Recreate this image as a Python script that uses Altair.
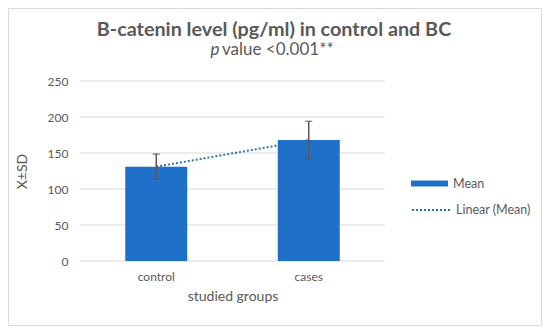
import altair as alt
import pandas as pd

groups = ["control", "cases"]
means = [131, 168]
sds = [17.5, 26]
y_ticks = [0, 50, 100, 150, 200, 250]
title_text = "B-catenin level  (pg/ml) in control and BC"
sub_italic = "p"
sub_rest = "value <0.001**"

BLUE = "#1F70C8"
TREND = "#2E75B6"
GRAY = "#595959"
GRID = "#D9D9D9"
FONT = "Lato"

df = pd.DataFrame({
    "group": groups,
    "mean": means,
    "lower": [m - s for m, s in zip(means, sds)],
    "upper": [m + s for m, s in zip(means, sds)],
    "series": ["Mean"] * 2,
    "trend": ["Linear (Mean)"] * 2,
})
grid_df = pd.DataFrame({"v": y_ticks})
one = pd.DataFrame({"a": [0]})

x_enc = alt.X(
    "group:N", sort=groups, title="studied groups",
    scale=alt.Scale(paddingInner=0, paddingOuter=0),
    axis=alt.Axis(labelAngle=0, ticks=False, grid=False, domain=False, labelPadding=10,
                  labelFontSize=12, titleFontSize=14, titlePadding=7,
                  labelColor=GRAY, titleColor=GRAY, labelFont=FONT, titleFont=FONT,
                  titleFontWeight="normal"),
)
y_scale = alt.Scale(domain=[0, 250], nice=False)
y_axis = alt.Axis(values=y_ticks, ticks=False, domain=False, grid=False,
                  labelPadding=12, labelFontSize=12, titleFontSize=14,
                  titlePadding=18, labelColor=GRAY, titleColor=GRAY,
                  labelFont=FONT, titleFont=FONT, titleFontWeight="normal")


def y_enc(field):
    return alt.Y(field, scale=y_scale, title="X±SD", axis=y_axis)


base = alt.Chart(df)

border = alt.Chart(one).mark_rect(
    filled=False, stroke=GRID, strokeWidth=1
).encode(x=alt.value(-71.5), x2=alt.value(461.5), y=alt.value(-72.5), y2=alt.value(244.5))

gridlines = alt.Chart(grid_df).mark_rule(color=GRID, strokeWidth=1).encode(
    y=y_enc("v:Q")
)

title_main = alt.Chart(one).mark_text(
    font=FONT, fontSize=19.8, fontWeight="bold", color=GRAY, align="center", baseline="alphabetic"
).encode(x=alt.value(194), y=alt.value(-45.5), text=alt.value(title_text))
title_p = alt.Chart(one).mark_text(
    font=FONT, fontSize=17, fontStyle="italic", color=GRAY, align="left", baseline="alphabetic"
).encode(x=alt.value(130.5), y=alt.value(-26.5), text=alt.value(sub_italic))
title_rest = alt.Chart(one).mark_text(
    font=FONT, fontSize=17, color=GRAY, align="left", baseline="alphabetic"
).encode(x=alt.value(142), y=alt.value(-26.5), text=alt.value(sub_rest))

trend = base.mark_line(strokeWidth=2, color=TREND).encode(
    x=x_enc,
    y=y_enc("mean:Q"),
    strokeDash=alt.StrokeDash(
        "trend:N",
        scale=alt.Scale(domain=["Linear (Mean)"], range=[[2, 2]]),
        legend=alt.Legend(title=None, orient="none", legendX=331, legendY=109,
                          symbolType="stroke", symbolSize=1444, symbolStrokeColor=TREND,
                          symbolStrokeWidth=2, symbolDash=[2, 2], labelOffset=5,
                          labelFont=FONT, labelFontSize=12.5, labelColor=GRAY),
    ),
)

bars = base.mark_bar(size=62).encode(
    x=x_enc,
    y=y_enc("mean:Q"),
    fill=alt.Fill(
        "series:N",
        scale=alt.Scale(domain=["Mean"], range=[BLUE]),
        legend=alt.Legend(title=None, orient="none", legendX=331, legendY=84,
                          symbolType="M-1,-0.16H1V0.16H-1Z", symbolSize=1369,
                          symbolStrokeWidth=0, labelOffset=5,
                          labelFont=FONT, labelFontSize=12.5, labelColor=GRAY),
    ),
)

err = base.mark_rule(color=GRAY, strokeWidth=1.5).encode(
    x=x_enc, y=y_enc("lower:Q"), y2="upper:Q"
)
cap_lo = base.mark_tick(color=GRAY, thickness=1.5, size=7, orient="horizontal").encode(
    x=x_enc, y=y_enc("lower:Q")
)
cap_hi = base.mark_tick(color=GRAY, thickness=1.5, size=7, orient="horizontal").encode(
    x=x_enc, y=y_enc("upper:Q")
)

chart = alt.layer(border, gridlines, title_main, title_p, title_rest,
                  trend, bars, err, cap_lo, cap_hi).properties(
    width=305, height=180,
    autosize=alt.AutoSizeParams(type="none"),
    padding={"left": 72, "top": 73, "right": 157, "bottom": 65},
).configure(
    background="white",
    view=alt.ViewConfig(stroke="transparent", strokeOpacity=0, strokeWidth=0),
    axis=alt.AxisConfig(grid=False, domain=False, ticks=False),
)

chart.save("out.html", embed_options={"renderer": "svg", "actions": False})
